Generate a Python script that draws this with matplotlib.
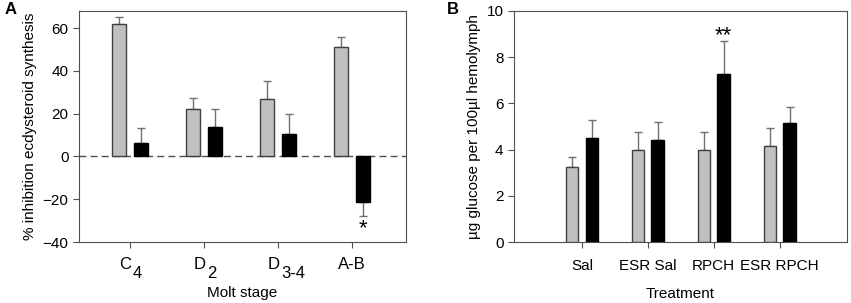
import numpy as np
import matplotlib
matplotlib.use("Agg")
import matplotlib.pyplot as plt
from matplotlib.transforms import blended_transform_factory, offset_copy

plt.rcParams['font.family'] = ['Liberation Sans', 'DejaVu Sans']

# Panel A data
stages = ['C', 'D', 'D', 'A-B']
stage_subs = ['4', '2', '3-4', '']
a_gray = [62, 22, 27, 51]
a_gray_err = [3, 5.5, 8.5, 5]
a_black = [6.5, 14, 10.5, -21.5]
a_black_err = [7, 8, 9.5, 6.5]

# Panel B data
treatments = ['Sal', 'ESR Sal', 'RPCH', 'ESR RPCH']
b_gray = [3.25, 4.0, 4.0, 4.15]
b_gray_err = [0.45, 0.75, 0.75, 0.77]
b_black = [4.52, 4.42, 7.28, 5.15]
b_black_err = [0.75, 0.78, 1.42, 0.7]

gray = '#c0c0c0'
edge = '#404040'
errc = '#707070'

fig = plt.figure(figsize=(8.51, 3.03), dpi=100)
axA = fig.add_axes([79/851, 1 - 242/303, 327/851, 231/303])
axB = fig.add_axes([514/851, 1 - 242/303, 333/851, 231/303])

w = 0.19
off = 0.15


def draw(ax, g, ge, b, be):
    x = np.arange(1, len(g) + 1)
    ax.bar(x - off, g, w, color=gray, edgecolor=edge, linewidth=1, zorder=3)
    ax.bar(x + off, b, w, color='black', edgecolor='black', linewidth=1, zorder=3)
    for xi, v, e in zip(x - off, g, ge):
        lo, hi = (0, e) if v >= 0 else (e, 0)
        ax.errorbar(xi, v, yerr=[[lo], [hi]], color=errc, capsize=3, elinewidth=1, capthick=1, zorder=2)
    for xi, v, e in zip(x + off, b, be):
        lo, hi = (0, e) if v >= 0 else (e, 0)
        ax.errorbar(xi, v, yerr=[[lo], [hi]], color=errc, capsize=3, elinewidth=1, capthick=1, zorder=2)
    for s in ax.spines.values():
        s.set_color('#505050')
    ax.tick_params(direction='out', colors='#505050', labelcolor='black', labelsize=11, length=4)
    return x


x = draw(axA, a_gray, a_gray_err, a_black, a_black_err)
axA.axhline(0, color='#505050', linestyle=(0, (5, 3)), linewidth=1, zorder=1)
axA.set_xlim(0.31, 4.73)
axA.set_ylim(-40, 68)
axA.set_yticks([-40, -20, 0, 20, 40, 60])
axA.set_xticks(x)
axA.set_xticklabels([])
# tick labels with big, low subscripts
trans = blended_transform_factory(axA.transData, axA.transAxes)
for xi, main, sub in zip(x, stages, stage_subs):
    if sub:
        axA.text(xi + 0.02, 0, main, transform=offset_copy(trans, fig, 0, -11, units='points'),
                 ha='right', va='top', fontsize=12)
        axA.text(xi + 0.02, 0, sub, transform=offset_copy(trans, fig, 1, -17, units='points'),
                 ha='left', va='top', fontsize=12)
    else:
        axA.text(xi, 0, main, transform=offset_copy(trans, fig, 0, -11, units='points'),
                 ha='center', va='top', fontsize=12)
axA.set_ylabel('% inhibition ecdysteroid synthesis', fontsize=11)
axA.set_xlabel('Molt stage', fontsize=11, labelpad=24)
axA.text(4 + off, -34, '*', ha='center', va='center', fontsize=16)

x = draw(axB, b_gray, b_gray_err, b_black, b_black_err)
axB.set_xlim(-0.03, 5.02)
axB.set_ylim(0, 10)
axB.set_yticks([0, 2, 4, 6, 8, 10])
axB.set_xticks(x)
axB.set_xticklabels(treatments, fontsize=11)
axB.tick_params(axis='x', pad=8)
axB.set_ylabel('µg glucose per 100µl hemolymph', fontsize=11)
axB.set_xlabel('Treatment', fontsize=11, labelpad=10)
axB.text(3 + off, 8.95, '**', ha='center', va='center', fontsize=16)

fig.text(5/851, 1 - 9/303, 'A', fontsize=12, fontweight='bold', va='center')
fig.text(447/851, 1 - 9/303, 'B', fontsize=12, fontweight='bold', va='center')

fig.savefig('out.png', dpi=100)
